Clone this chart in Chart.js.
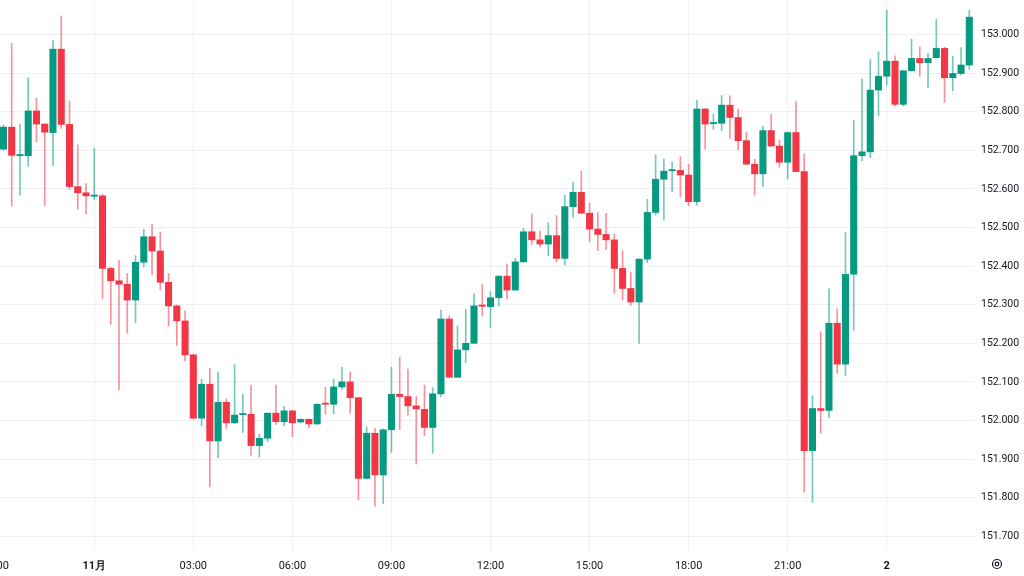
<!DOCTYPE html>
<html>
<head>
<meta charset="utf-8">
<script src="https://cdn.jsdelivr.net/npm/chart.js@4.4.1/dist/chart.umd.min.js"></script>
<style>
  html, body { margin: 0; padding: 0; background: #fff; }
  canvas { display: block; background: #fff; }
</style>
</head>
<body>
<canvas id="mainChart" width="1024" height="576"></canvas>
<script>
// 15-minute candles, index 0 = 21:15, index 11 = 00:00 (11月), index 107 = 00:00 (2)
const opens = [
  152.703, 152.760, 152.686, 152.686, 152.802, 152.768, 152.746, 152.962, 152.767, 152.606,
  152.590, 152.581, 152.582, 152.394, 152.362, 152.353, 152.312, 152.410, 152.476, 152.439,
  152.358, 152.297, 152.258, 152.170, 152.006, 152.094, 151.947, 152.047, 151.994, 152.015,
  152.016, 151.935, 151.954, 152.019, 151.997, 152.025, 151.996, 152.003, 151.991, 152.044,
  152.042, 152.087, 152.100, 152.059, 151.850, 151.967, 151.859, 151.976, 152.068, 152.062,
  152.038, 152.029, 151.982, 152.069, 152.263, 152.112, 152.183, 152.200, 152.298, 152.295,
  152.318, 152.374, 152.338, 152.411, 152.489, 152.468, 152.457, 152.479, 152.420, 152.554,
  152.591, 152.537, 152.496, 152.482, 152.468, 152.394, 152.342, 152.307, 152.418, 152.539,
  152.625, 152.647, 152.648, 152.636, 152.567, 152.807, 152.769, 152.770, 152.817, 152.785,
  152.725, 152.664, 152.639, 152.751, 152.711, 152.669, 152.746, 152.645, 151.922, 152.031,
  152.026, 152.252, 152.146, 152.379, 152.686, 152.696, 152.856, 152.892, 152.931, 152.819,
  152.906, 152.938, 152.927, 152.940, 152.964, 152.888, 152.899, 152.921
];
const highs = [
  152.765, 152.977, 152.768, 152.888, 152.835, 152.768, 152.984, 153.048, 152.828, 152.714,
  152.614, 152.705, 152.586, 152.397, 152.414, 152.381, 152.427, 152.495, 152.508, 152.488,
  152.381, 152.299, 152.284, 152.172, 152.107, 152.135, 152.125, 152.056, 152.145, 152.068,
  152.092, 151.964, 152.019, 152.092, 152.036, 152.026, 152.005, 152.004, 152.043, 152.086,
  152.107, 152.138, 152.126, 152.060, 151.984, 151.980, 151.978, 152.138, 152.164, 152.133,
  152.062, 152.092, 152.085, 152.286, 152.271, 152.245, 152.288, 152.329, 152.353, 152.334,
  152.375, 152.405, 152.420, 152.498, 152.535, 152.491, 152.513, 152.531, 152.584, 152.617,
  152.646, 152.563, 152.539, 152.537, 152.483, 152.439, 152.383, 152.419, 152.573, 152.688,
  152.677, 152.670, 152.683, 152.664, 152.830, 152.808, 152.794, 152.842, 152.841, 152.807,
  152.748, 152.677, 152.763, 152.793, 152.727, 152.748, 152.826, 152.690, 152.064, 152.230,
  152.341, 152.289, 152.487, 152.778, 152.885, 152.936, 152.955, 153.063, 152.945, 152.907,
  152.988, 152.968, 152.951, 153.039, 152.967, 152.944, 152.966, 153.063
];
const lows = [
  152.700, 152.556, 152.584, 152.659, 152.722, 152.556, 152.660, 152.757, 152.599, 152.547,
  152.535, 152.573, 152.316, 152.249, 152.079, 152.226, 152.253, 152.398, 152.377, 152.338,
  152.245, 152.194, 152.155, 152.004, 151.986, 151.828, 151.904, 151.980, 151.992, 151.969,
  151.910, 151.906, 151.945, 151.990, 151.986, 151.958, 151.994, 151.981, 151.990, 152.016,
  152.017, 152.081, 152.019, 151.794, 151.849, 151.778, 151.785, 151.917, 151.977, 152.014,
  151.887, 151.960, 151.915, 152.062, 152.111, 152.111, 152.150, 152.199, 152.271, 152.240,
  152.297, 152.315, 152.337, 152.410, 152.456, 152.450, 152.427, 152.411, 152.403, 152.526,
  152.536, 152.463, 152.440, 152.443, 152.329, 152.312, 152.299, 152.200, 152.409, 152.532,
  152.519, 152.593, 152.580, 152.556, 152.558, 152.703, 152.754, 152.751, 152.731, 152.701,
  152.663, 152.584, 152.606, 152.710, 152.656, 152.626, 152.644, 151.814, 151.788, 151.967,
  152.007, 152.122, 152.116, 152.234, 152.673, 152.681, 152.789, 152.869, 152.815, 152.815,
  152.905, 152.892, 152.863, 152.939, 152.824, 152.854, 152.895, 152.910
];
const closes = [
  152.760, 152.687, 152.688, 152.802, 152.768, 152.747, 152.962, 152.767, 152.606, 152.590,
  152.582, 152.584, 152.394, 152.362, 152.353, 152.312, 152.410, 152.476, 152.439, 152.358,
  152.297, 152.258, 152.170, 152.006, 152.094, 151.947, 152.047, 151.994, 152.014, 152.017,
  151.935, 151.954, 152.019, 151.997, 152.025, 151.994, 152.003, 151.991, 152.042, 152.042,
  152.087, 152.100, 152.059, 151.850, 151.967, 151.859, 151.976, 152.068, 152.062, 152.038,
  152.030, 151.982, 152.069, 152.263, 152.112, 152.183, 152.200, 152.297, 152.296, 152.318,
  152.374, 152.338, 152.411, 152.489, 152.468, 152.457, 152.479, 152.420, 152.554, 152.591,
  152.537, 152.496, 152.482, 152.468, 152.394, 152.342, 152.307, 152.418, 152.539, 152.625,
  152.646, 152.649, 152.636, 152.567, 152.807, 152.768, 152.771, 152.817, 152.785, 152.725,
  152.664, 152.639, 152.751, 152.711, 152.669, 152.746, 152.645, 151.922, 152.031, 152.026,
  152.252, 152.146, 152.379, 152.686, 152.696, 152.856, 152.892, 152.931, 152.819, 152.906,
  152.938, 152.927, 152.938, 152.964, 152.888, 152.899, 152.921, 153.045
];

const xTickIndex = [-1, 11, 23, 35, 47, 59, 71, 83, 95, 107];
const xTickLabels = ['21:00', '11月', '03:00', '06:00', '09:00', '12:00', '15:00', '18:00', '21:00', '2'];
const boldLabels = ['11月', '2'];
const yTicks = [151.7, 151.8, 151.9, 152.0, 152.1, 152.2, 152.3, 152.4, 152.5, 152.6, 152.7, 152.8, 152.9, 153.0];

const UP = '#089981', DOWN = '#f23645';
const WICK_UP = 'rgba(8, 153, 129, 0.55)', WICK_DOWN = 'rgba(242, 54, 69, 0.55)';
const GRID = '#f0f1f4';
const TEXT = '#131722';
const FONT = "-apple-system, BlinkMacSystemFont, 'Trebuchet MS', Roboto, Ubuntu, sans-serif";

const idx = opens.map((_, i) => i);
const isUp = i => closes[i] >= opens[i];

// little settings cog under the price scale
const gearIcon = {
  id: 'gearIcon',
  afterDraw(chart) {
    const c = chart.ctx;
    const cx = chart.scales.y.left + 22, cy = chart.scales.x.top + 12;
    c.save();
    c.strokeStyle = TEXT;
    c.lineWidth = 1.2;
    c.beginPath(); c.arc(cx, cy, 4.5, 0, Math.PI * 2); c.stroke();
    c.beginPath(); c.arc(cx, cy, 1.8, 0, Math.PI * 2); c.stroke();
    c.restore();
  }
};

const ctx = document.getElementById('mainChart').getContext('2d');
new Chart(ctx, {
  type: 'bar',
  data: {
    datasets: [
      {
        label: 'body',
        data: idx.map(i => ({ x: i, y: [opens[i], closes[i]] })),
        backgroundColor: c => isUp(c.dataIndex) ? UP : DOWN,
        barThickness: 6.4, minBarLength: 1.2, grouped: false, order: 0
      },
      {
        label: 'wick',
        data: idx.map(i => ({ x: i, y: [lows[i], highs[i]] })),
        backgroundColor: c => isUp(c.dataIndex) ? WICK_UP : WICK_DOWN,
        barThickness: 1, grouped: false, order: 1
      }
    ]
  },
  options: {
    responsive: false,
    devicePixelRatio: 1,
    animation: false,
    layout: { padding: 0 },
    plugins: { legend: { display: false }, tooltip: { enabled: false } },
    scales: {
      x: {
        type: 'linear', min: -0.418, max: 117.69, offset: false,
        grid: { color: GRID, drawTicks: false, offset: false },
        border: { display: false },
        ticks: {
          autoSkip: false, maxRotation: 0, padding: 8, color: TEXT,
          font: c => ({ family: FONT, size: 11, weight: boldLabels.includes(xTickLabels[c.index]) ? 'bold' : 'normal' }),
          callback: (v, i) => xTickLabels[i]
        },
        afterBuildTicks: s => { s.ticks = xTickIndex.map(v => ({ value: v })); },
        afterFit: s => { s.height = 24; s.paddingLeft = 0; s.paddingRight = 0; }
      },
      y: {
        position: 'right', min: 151.6593, max: 153.0894, beginAtZero: false,
        grid: { color: GRID, drawTicks: false },
        border: { display: false },
        ticks: { padding: 6, color: TEXT, font: { family: FONT, size: 10.5 }, callback: v => v.toFixed(3) },
        afterBuildTicks: s => { s.ticks = yTicks.map(v => ({ value: v })); },
        afterFit: s => { s.width = 49; s.paddingTop = 0; s.paddingBottom = 0; }
      }
    }
  },
  plugins: [gearIcon]
});
</script>
</body>
</html>
